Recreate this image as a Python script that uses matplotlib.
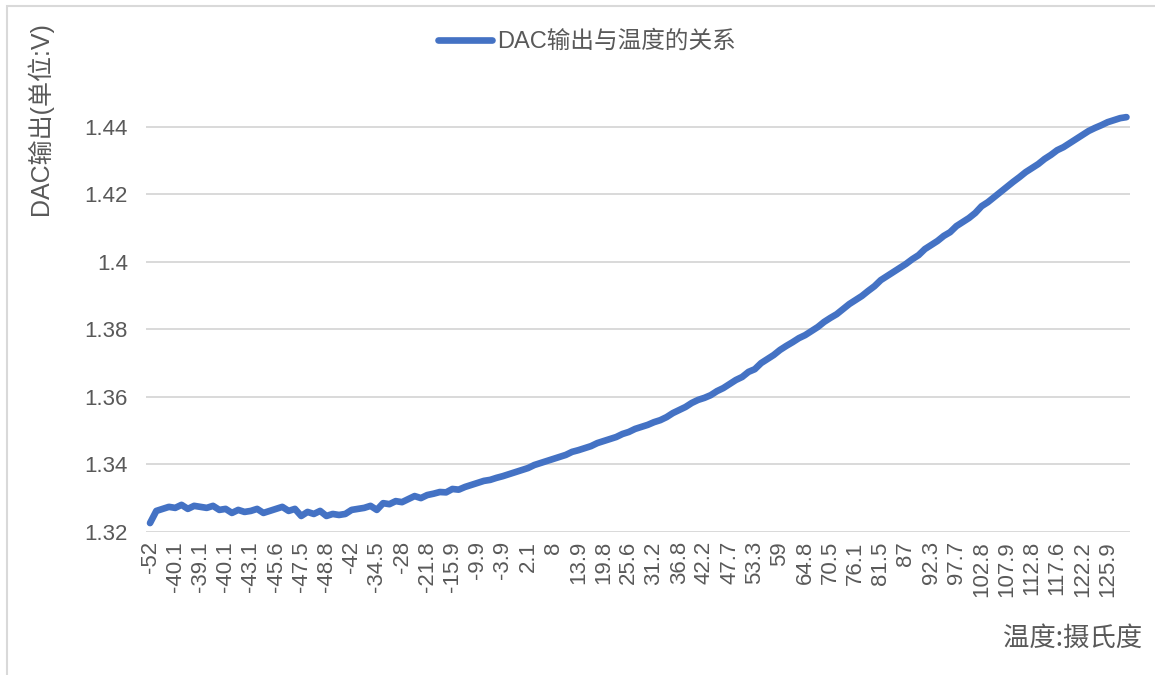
import matplotlib
matplotlib.use("Agg")
import matplotlib.pyplot as plt
from matplotlib.patches import Rectangle
import numpy as np

plt.rcParams['font.family'] = ['Liberation Sans', 'Noto Sans CJK SC']

# temperature readings shown as category labels (one label every 4 samples)
temp_labels = ['-52', '-40.1', '-39.1', '-40.1', '-43.1', '-45.6', '-47.5', '-48.8', '-42',
               '-34.5', '-28', '-21.8', '-15.9', '-9.9', '-3.9', '2.1', '8', '13.9', '19.8',
               '25.6', '31.2', '36.8', '42.2', '47.7', '53.3', '59', '64.8', '70.5', '76.1',
               '81.5', '87', '92.3', '97.7', '102.8', '107.9', '112.8', '117.6', '122.2', '125.9']
samples_per_label = 4

# DAC output (V)
dac_cold = [1.3225, 1.3261, 1.3267, 1.3273, 1.3270, 1.3279, 1.3267, 1.3276,
            1.3273, 1.3270, 1.3276, 1.3264, 1.3267, 1.3255, 1.3264, 1.3258,
            1.3261, 1.3267, 1.3255, 1.3261, 1.3267, 1.3273, 1.3261, 1.3267,
            1.3246, 1.3258, 1.3252, 1.3261, 1.3246, 1.3252, 1.3249, 1.3252]
dac_low = [1.3264, 1.3267, 1.3270, 1.3276, 1.3264, 1.3284, 1.3281, 1.3290,
           1.3287, 1.3296, 1.3305, 1.3299, 1.3308, 1.3312, 1.3317, 1.3316,
           1.3326, 1.3324, 1.3332, 1.3338, 1.3344, 1.3350, 1.3353, 1.3359,
           1.3364, 1.3370, 1.3376, 1.3382, 1.3388, 1.3397, 1.3403, 1.3409]
dac_mid = [1.3415, 1.3421, 1.3427, 1.3436, 1.3441, 1.3447, 1.3453, 1.3462,
           1.3468, 1.3474, 1.3480, 1.3489, 1.3495, 1.3504, 1.3510, 1.3516,
           1.3524, 1.3530, 1.3539, 1.3551, 1.3560, 1.3569, 1.3581, 1.3590,
           1.3596, 1.3604, 1.3616, 1.3625, 1.3637, 1.3649, 1.3658, 1.3673]
dac_warm = [1.3681, 1.3699, 1.3711, 1.3723, 1.3738, 1.3750, 1.3761, 1.3773,
            1.3782, 1.3794, 1.3806, 1.3821, 1.3833, 1.3844, 1.3859, 1.3874,
            1.3886, 1.3898, 1.3913, 1.3927, 1.3945, 1.3957, 1.3969, 1.3981,
            1.3993, 1.4007, 1.4019, 1.4037, 1.4049, 1.4061, 1.4076, 1.4087]
dac_hot = [1.4105, 1.4117, 1.4129, 1.4144, 1.4164, 1.4176, 1.4191, 1.4206,
           1.4221, 1.4236, 1.4250, 1.4265, 1.4277, 1.4289, 1.4304, 1.4316,
           1.4330, 1.4339, 1.4351, 1.4363, 1.4375, 1.4387, 1.4396, 1.4404,
           1.4413, 1.4419, 1.4425, 1.4428]
y_ticks = [1.32, 1.34, 1.36, 1.38, 1.40, 1.42, 1.44]
y_tick_labels = ['1.32', '1.34', '1.36', '1.38', '1.4', '1.42', '1.44']

dac = np.array(dac_cold + dac_low + dac_mid + dac_warm + dac_hot)
idx = np.arange(len(dac))

fig = plt.figure(figsize=(11.55, 6.75), dpi=100)
ax = fig.add_axes([146/1155, 1 - 531.5/675, 984/1155, 425.5/675])

grey = '#595959'
ax.plot(idx, dac, color='#4472C4', lw=4.8, solid_capstyle='round',
        solid_joinstyle='round', label='DAC输出与温度的关系', zorder=3)

ax.set_ylim(1.32, 1.4461)
ax.set_xlim(-0.16 * samples_per_label, 38.89 * samples_per_label)
ax.set_yticks(y_ticks)
ax.set_yticklabels(y_tick_labels)
ax.set_xticks(np.arange(len(temp_labels)) * samples_per_label)
ax.set_xticklabels(temp_labels, rotation=90, va='top', ha='center')
ax.tick_params(axis='y', length=0, pad=13, labelsize=16, labelcolor=grey)
ax.tick_params(axis='x', length=0, pad=7, labelsize=16, labelcolor=grey)
ax.grid(axis='y', color='#d9d9d9', lw=1.4, zorder=0)
for s in ax.spines.values():
    s.set_visible(False)

fig.text(40/1155, 1 - 119/675, 'DAC输出(单位:V)', rotation=90, ha='center',
         va='center', fontsize=18, color=grey,
         family=['Liberation Sans', 'Noto Sans CJK SC'])
fig.text(1142/1155, 1 - 638/675, '温度:摄氏度', ha='right', va='center',
         fontsize=19, color=grey, family=['Noto Sans CJK SC', 'DejaVu Sans'])

leg = fig.legend(loc='center', bbox_to_anchor=(587/1155, 1 - 42/675), frameon=False,
                 fontsize=17, handlelength=2.3, handletextpad=0.2)
for t in leg.get_texts():
    t.set_color(grey)

fig.patches.append(Rectangle((6.5/1155, -0.1), 1.2, 1.1 - 6/675,
                             transform=fig.transFigure, fill=False,
                             edgecolor='#d9d9d9', lw=1.5))

fig.savefig('out.png', dpi=100, facecolor='white')
